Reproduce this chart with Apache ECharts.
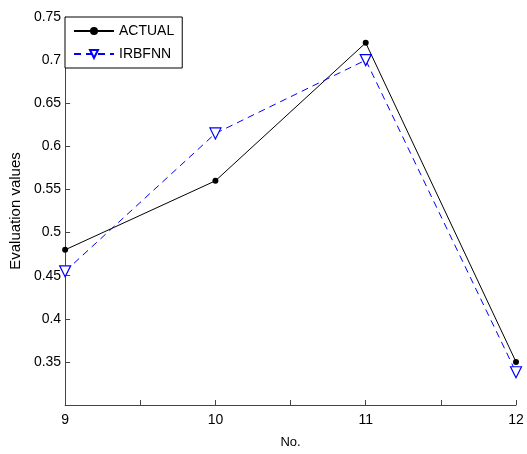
<!DOCTYPE html>
<html><head><meta charset="utf-8">
<script src="https://cdn.jsdelivr.net/npm/echarts@6/dist/echarts.min.js"></script>
<style>html,body{margin:0;padding:0;background:#fff}#c{width:527px;height:454px}</style>
</head><body><div id="c"></div>
<script>
const categories = [9, 10, 11, 12];
const actual = [0.48, 0.56, 0.72, 0.35];
const irbfnn = [0.455, 0.615, 0.70, 0.338];
const yTicks = [0.35, 0.4, 0.45, 0.5, 0.55, 0.6, 0.65, 0.7, 0.75];
const xTicks = [9, 10, 11, 12];

const font = 'Liberation Sans, Arial, sans-serif';
const axisColor = '#444';
const chart = echarts.init(document.getElementById('c'));
chart.setOption({
  animation: false,
  backgroundColor: '#fff',
  grid: {left: 65, right: 11, top: 17, bottom: 41, containLabel: false},
  legend: {
    orient: 'vertical', left: 65, top: 17,
    backgroundColor: '#fff', borderColor: '#000', borderWidth: 1, borderRadius: 0,
    padding: [7, 8, 7, 8], itemGap: 9, itemWidth: 40, itemHeight: 10,
    textStyle: {fontFamily: font, fontSize: 14, color: '#000'},
    data: ['ACTUAL', 'IRBFNN']
  },
  xAxis: {
    type: 'value', min: 9, max: 12, interval: 0.5,
    name: 'No.', nameLocation: 'middle', nameGap: 31,
    nameTextStyle: {fontFamily: font, fontSize: 13, color: '#000'},
    axisLine: {show: true, lineStyle: {color: axisColor, width: 1}},
    axisTick: {show: true, inside: true, length: 5, lineStyle: {color: axisColor}},
    splitLine: {show: false},
    axisLabel: {fontFamily: font, fontSize: 14, color: '#000', margin: 8,
      formatter: v => xTicks.includes(v) ? String(v) : ''}
  },
  yAxis: {
    type: 'value', min: 0.3, max: 0.75, interval: 0.05,
    name: 'Evaluation values', nameLocation: 'middle', nameGap: 40,
    nameTextStyle: {fontFamily: font, fontSize: 15, color: '#000'},
    axisLine: {show: true, lineStyle: {color: axisColor, width: 1}},
    axisTick: {show: true, inside: true, length: 5, lineStyle: {color: axisColor}},
    splitLine: {show: false},
    axisLabel: {fontFamily: font, fontSize: 14, color: '#000', margin: 4,
      formatter: v => {
        const r = Math.round(v * 100) / 100;
        return yTicks.some(t => Math.abs(t - r) < 1e-9) ? String(r) : '';
      }}
  },
  series: [
    {
      name: 'ACTUAL', type: 'line',
      data: categories.map((c, i) => [c, actual[i]]),
      symbol: 'circle', symbolSize: 6,
      lineStyle: {color: '#000', width: 1},
      itemStyle: {color: '#000'}
    },
    {
      name: 'IRBFNN', type: 'line',
      data: categories.map((c, i) => [c, irbfnn[i]]),
      symbol: 'triangle', symbolSize: 11, symbolRotate: 180,
      lineStyle: {color: '#0000ff', width: 1, type: [7, 5]},
      itemStyle: {color: '#fff', borderColor: '#0000ff', borderWidth: 1.2}
    }
  ]
});
</script></body></html>
